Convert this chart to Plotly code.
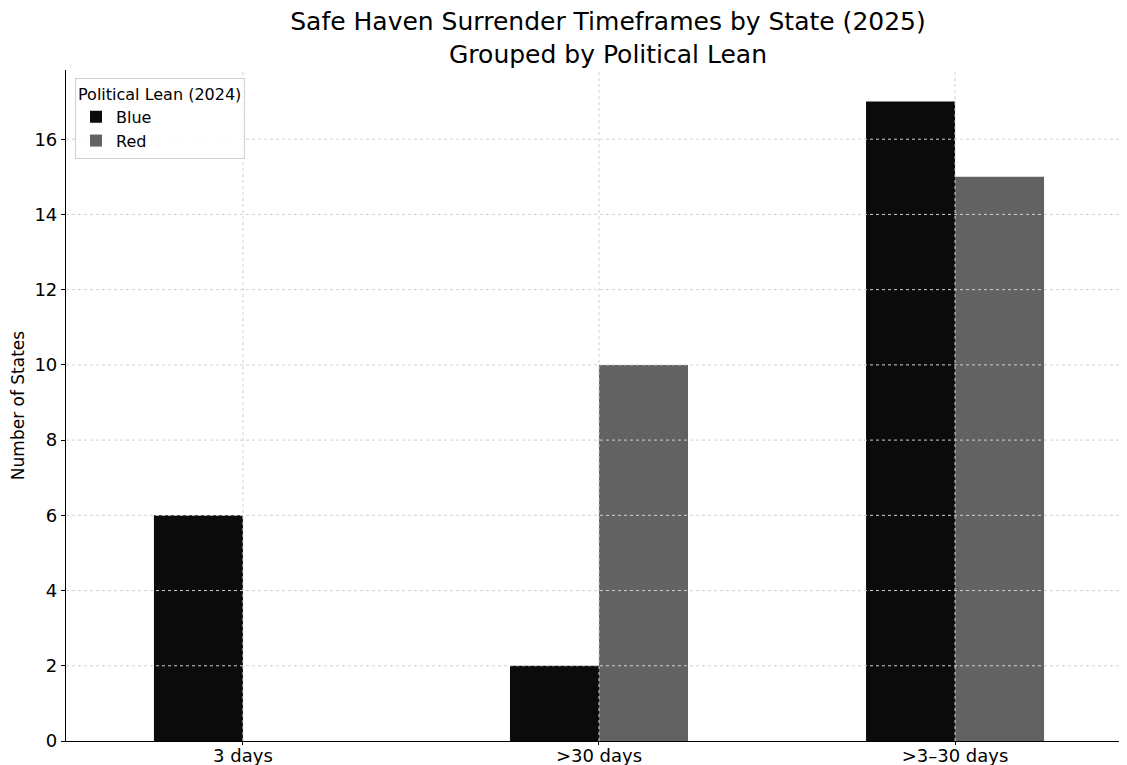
import plotly.graph_objects as go

categories = ["3 days", ">30 days", ">3–30 days"]
blue_counts = [6, 2, 17]
red_counts = [0, 10, 15]
y_ticks = [0, 2, 4, 6, 8, 10, 12, 14, 16]

FONT = "DejaVu Sans"
OFF = 8  # page body margin offset
W, H = 1127 - OFF, 765 - OFF
L, R, T, B = 66 - OFF, 0, 70 - OFF, 24

fig = go.Figure()
fig.add_trace(go.Bar(x=categories, y=blue_counts, name="Blue",
                     marker=dict(color="#0b0b0b", line=dict(width=0))))
fig.add_trace(go.Bar(x=categories, y=red_counts, name="Red",
                     marker=dict(color="#626262", line=dict(width=0))))

# grid drawn above the bars (as in the reference)
for v in y_ticks[1:]:
    fig.add_hline(y=v, layer="above", line=dict(color="#d0d0d0", width=1, dash="dot"))
for i in range(len(categories)):
    fig.add_vline(x=i, layer="above", line=dict(color="#d0d0d0", width=1, dash="dot"))

fig.update_layout(
    width=W, height=H,
    margin=dict(l=L, r=R, t=T, b=B, autoexpand=False),
    paper_bgcolor="white", plot_bgcolor="white",
    font=dict(family=FONT, size=16, color="black"),
    barmode="group", bargap=0.5, bargroupgap=0,
    title=dict(text="Safe Haven Surrender Timeframes by State (2025)<br>Grouped by Political Lean",
               x=(608 - OFF) / W, xanchor="center", xref="container",
               y=1 - 22 / H, yanchor="top", yref="container",
               font=dict(family=FONT, size=25, color="black")),
    legend=dict(title=dict(text="Political Lean (2024)", font=dict(size=16)),
                font=dict(size=16), x=0.0085, y=0.988, xanchor="left", yanchor="top",
                bgcolor="rgba(255,255,255,0.8)", bordercolor="#d0d0d0", borderwidth=1,
                itemsizing="constant", tracegroupgap=0),
    xaxis=dict(range=[-0.497, 2.483], showgrid=False, showline=True, linecolor="black",
               linewidth=1.2, ticks="outside", ticklen=3, tickcolor="black",
               tickfont=dict(size=18), automargin=False, zeroline=False,
               ticklabelstandoff=-5),
    yaxis=dict(range=[0, 17.84], tickvals=y_ticks, showgrid=False, showline=True,
               linecolor="black", linewidth=1.2, ticks="outside", ticklen=4,
               tickcolor="black", tickfont=dict(size=18), zeroline=False,
               title=dict(text="Number of States", font=dict(size=17), standoff=8),
               automargin=False),
)

fig.write_html("out.html")
